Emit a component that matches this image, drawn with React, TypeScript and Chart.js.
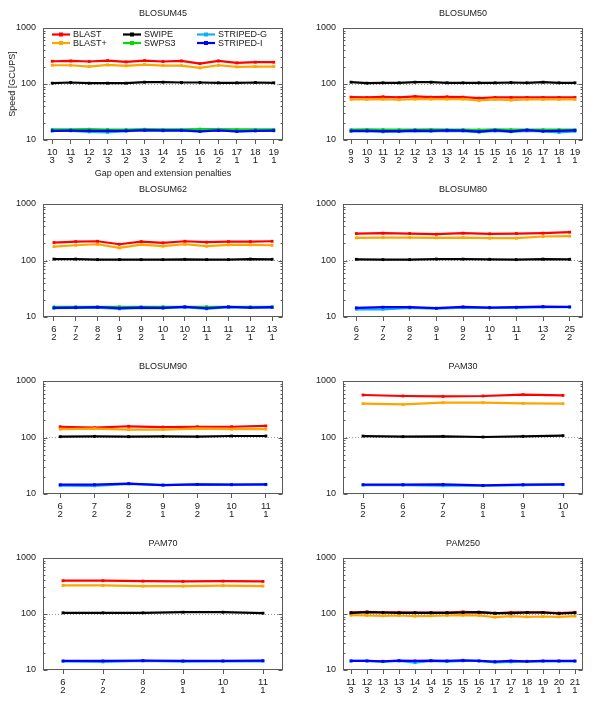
import { useEffect, useRef } from 'react';
import Chart from 'chart.js/auto';

// ---------------- data ----------------
const SERIES_NAMES = ['BLAST', 'BLAST+', 'SWIPE', 'SWPS3', 'STRIPED-G', 'STRIPED-I'];
const Y_TICKS = [10, 20, 30, 40, 50, 60, 70, 80, 90, 100, 200, 300, 400, 500, 600, 700, 800, 900, 1000];
const Y_MAJOR = [10, 100, 1000];

// BLOSUM45
const b45Open = [10, 11, 12, 12, 13, 13, 14, 15, 16, 16, 17, 18, 19];
const b45Ext = [3, 3, 2, 3, 2, 3, 2, 2, 1, 2, 1, 1, 1];
const b45Blast = [255, 258, 252, 262, 248, 262, 252, 258, 232, 258, 238, 245, 245];
const b45BlastPlus = [216, 216, 205, 219, 211, 222, 213, 213, 194, 216, 202, 205, 205];
const b45Swipe = [103.5, 106.3, 103.5, 103.5, 103.5, 107.8, 107.8, 106.3, 106.3, 104.9, 104.9, 106.3, 104.9];
const b45Swps3 = [15.5, 15.5, 15.6, 15.4, 15.4, 15.6, 15.5, 15.5, 15.7, 15.6, 15.5, 15.5, 15.5];
const b45StripedG = [14.5, 14.6, 13.9, 13.7, 14.4, 14.8, 14.6, 14.7, 14.2, 14.8, 14.2, 14.5, 14.6];
const b45StripedI = [14.6, 14.7, 14.6, 14.5, 14.6, 15.0, 14.8, 14.8, 14.3, 14.9, 14.3, 14.6, 14.7];

// BLOSUM50
const b50Open = [9, 10, 11, 12, 12, 13, 13, 14, 15, 15, 16, 16, 17, 18, 19];
const b50Ext = [3, 3, 3, 2, 3, 2, 3, 2, 1, 2, 1, 2, 1, 1, 1];
const b50Blast = [58.3, 57.5, 59.1, 57.5, 59.9, 58.3, 59.1, 58.3, 56.0, 57.5, 57.5, 57.5, 57.5, 57.5, 57.5];
const b50BlastPlus = [53.0, 53.0, 53.7, 52.3, 53.7, 53.7, 53.7, 53.7, 50.8, 53.0, 51.5, 53.0, 53.0, 53.0, 53.0];
const b50Swipe = [107.8, 103.5, 104.9, 104.9, 107.8, 107.8, 104.9, 104.9, 104.9, 104.9, 106.3, 104.9, 107.8, 104.9, 104.9];
const b50Swps3 = [15.3, 15.5, 15.4, 15.3, 15.4, 15.5, 15.4, 15.4, 15.2, 15.5, 15.3, 15.4, 15.3, 15.3, 15.3];
const b50StripedG = [14.3, 14.4, 13.9, 14.1, 14.4, 14.3, 14.6, 14.4, 13.8, 14.5, 14.0, 14.6, 14.2, 13.7, 14.3];
const b50StripedI = [14.5, 14.6, 14.4, 14.4, 14.7, 14.6, 14.8, 14.7, 14.1, 14.9, 14.3, 15.0, 14.4, 14.5, 14.8];

// BLOSUM62
const b62Open = [6, 7, 8, 9, 9, 10, 10, 11, 11, 12, 13];
const b62Ext = [2, 2, 2, 1, 2, 1, 2, 1, 2, 1, 1];
const b62Blast = [208, 216, 219, 194, 216, 205, 219, 211, 216, 216, 219];
const b62BlastPlus = [176, 186, 194, 167, 191, 179, 194, 179, 189, 189, 186];
const b62Swipe = [106, 106, 103.5, 103.5, 103.5, 103.5, 105, 103.5, 103.5, 106, 105];
const b62Swps3 = [15.1, 15.2, 15.1, 15.2, 15.1, 15.2, 15.1, 15.2, 15.1, 15.1, 15.2];
const b62StripedG = [14.3, 14.5, 14.7, 13.9, 14.5, 14.3, 14.9, 13.9, 14.9, 14.7, 14.7];
const b62StripedI = [14.5, 14.7, 14.9, 14.3, 14.7, 14.5, 15.1, 14.3, 15.1, 14.7, 14.9];

// BLOSUM80
const b80Open = [6, 7, 8, 9, 9, 10, 11, 13, 25];
const b80Ext = [2, 2, 2, 1, 2, 1, 1, 2, 2];
const b80Blast = [300, 305, 300, 292, 305, 296, 300, 305, 317];
const b80BlastPlus = [252, 255, 255, 252, 255, 248, 248, 266, 269];
const b80Swipe = [105, 103.5, 103.5, 106, 106, 105, 103.5, 106, 105];
const b80StripedG = [13.7, 13.7, 14.5, 14.1, 14.7, 14.5, 14.5, 14.9, 14.9];
const b80StripedI = [14.5, 14.9, 14.9, 14.3, 15.1, 14.7, 14.9, 15.3, 15.1];

// BLOSUM90
const b90Open = [6, 7, 8, 9, 9, 10, 11];
const b90Ext = [2, 2, 2, 1, 2, 1, 1];
const b90Blast = [155, 149, 158, 153, 155, 155, 160];
const b90BlastPlus = [141, 143, 138, 138, 143, 141, 141];
const b90Swipe = [103.4, 104.9, 103.4, 104.9, 103.4, 106.3, 106.3];
const b90StripedG = [14.0, 13.9, 15.1, 14.4, 14.8, 14.6, 14.6];
const b90StripedI = [14.6, 14.6, 15.3, 14.4, 14.8, 14.6, 14.8];

// PAM30
const p30Open = [5, 6, 7, 8, 9, 10];
const p30Ext = [2, 2, 2, 1, 1, 1];
const p30Blast = [565, 543, 535, 543, 573, 557];
const p30BlastPlus = [397, 386, 413, 413, 402, 397];
const p30Swipe = [106, 103.4, 105, 102, 105, 107.8];
const p30StripedG = [14.4, 14.4, 14.0, 14.0, 14.4, 14.6];
const p30StripedI = [14.6, 14.6, 14.8, 14.2, 14.6, 14.8];

// PAM70
const p70Open = [6, 7, 8, 9, 10, 11];
const p70Ext = [2, 2, 2, 1, 1, 1];
const p70Blast = [393, 393, 387, 382, 387, 382];
const p70BlastPlus = [324, 324, 315, 315, 320, 315];
const p70Swipe = [104.9, 104.9, 104.9, 107.8, 107.8, 103.5];
const p70StripedG = [14.3, 13.9, 14.5, 14.1, 14.3, 14.3];
const p70StripedI = [14.5, 14.5, 14.7, 14.5, 14.5, 14.7];

// PAM250
const p250Open = [11, 12, 13, 13, 14, 14, 15, 15, 16, 17, 17, 18, 19, 20, 21];
const p250Ext = [3, 3, 2, 3, 2, 3, 2, 3, 2, 1, 2, 1, 1, 1, 1];
const p250Blast = [106, 109, 107, 107, 106, 106, 106, 109, 107, 103, 107, 107, 107, 104, 107];
const p250BlastPlus = [95.3, 94.0, 92.7, 94.0, 91.4, 92.7, 94.0, 95.3, 94.0, 87.8, 91.4, 89.0, 90.2, 89.0, 91.4];
const p250Swipe = [104.9, 107.8, 106.3, 104.9, 104.9, 104.9, 104.9, 106.3, 107.8, 103.5, 103.5, 106.3, 106.3, 102.1, 104.9];
const p250StripedG = [14.5, 14.5, 14.1, 14.5, 13.5, 14.5, 14.1, 14.5, 14.5, 13.7, 13.9, 14.1, 14.3, 14.3, 14.3];
const p250StripedI = [14.5, 14.5, 14.3, 14.7, 14.5, 14.7, 14.5, 14.9, 14.5, 14.1, 14.5, 14.3, 14.5, 14.5, 14.5];

type PanelDef = {
  title: string;
  open: number[];
  ext: number[];
  series: (number[] | null)[];
};

const PANELS: PanelDef[] = [
  { title: 'BLOSUM45', open: b45Open, ext: b45Ext, series: [b45Blast, b45BlastPlus, b45Swipe, b45Swps3, b45StripedG, b45StripedI] },
  { title: 'BLOSUM50', open: b50Open, ext: b50Ext, series: [b50Blast, b50BlastPlus, b50Swipe, b50Swps3, b50StripedG, b50StripedI] },
  { title: 'BLOSUM62', open: b62Open, ext: b62Ext, series: [b62Blast, b62BlastPlus, b62Swipe, b62Swps3, b62StripedG, b62StripedI] },
  { title: 'BLOSUM80', open: b80Open, ext: b80Ext, series: [b80Blast, b80BlastPlus, b80Swipe, null, b80StripedG, b80StripedI] },
  { title: 'BLOSUM90', open: b90Open, ext: b90Ext, series: [b90Blast, b90BlastPlus, b90Swipe, null, b90StripedG, b90StripedI] },
  { title: 'PAM30', open: p30Open, ext: p30Ext, series: [p30Blast, p30BlastPlus, p30Swipe, null, p30StripedG, p30StripedI] },
  { title: 'PAM70', open: p70Open, ext: p70Ext, series: [p70Blast, p70BlastPlus, p70Swipe, null, p70StripedG, p70StripedI] },
  { title: 'PAM250', open: p250Open, ext: p250Ext, series: [p250Blast, p250BlastPlus, p250Swipe, null, p250StripedG, p250StripedI] },
];

// ---------------- styles / layout ----------------
const FONT = "'Liberation Sans', Arial, Helvetica, sans-serif";
const TEXT = '#1a1a1a';
const FRAME = '#5a5a5a';
const COLORS = ['#ff0000', '#ffa500', '#000000', '#00dd00', '#10b0f0', '#0000ff'];
const ROW_PLOT_TOP = [28, 204, 381, 558];
const ROW_PLOT_H = [112, 113, 113, 112];
const TOP_SPACE = 28;
const AXIS_Y_W = 43;
const RIGHT_PAD = 17;
const LINE_W = 2.2;
const POINT_R = 2;

const framePlugin = {
  id: 'frameTicks',
  afterDraw(chart: any) {
    const { ctx, chartArea: a, scales } = chart;
    const y = scales.y;
    ctx.save();
    ctx.strokeStyle = FRAME;
    ctx.lineWidth = 1;
    const l = Math.round(a.left) + 0.5;
    const r = Math.round(a.right) - 0.5;
    const t = Math.round(a.top) + 0.5;
    const b = Math.round(a.bottom) - 0.5;
    ctx.strokeRect(l, t, r - l, b - t);
    ctx.beginPath();
    for (const tk of y.ticks) {
      const py = Math.round(y.getPixelForValue(tk.value)) + 0.5;
      const len = Y_MAJOR.includes(tk.value) ? 4 : 2;
      ctx.moveTo(l, py);
      ctx.lineTo(l + len, py);
      ctx.moveTo(r, py);
      ctx.lineTo(r - len, py);
    }
    ctx.stroke();
    ctx.restore();
  },
};

const LEGEND_COL_X = [9, 80, 154];
const LEGEND_ROW_Y = [6.5, 15];
const legendPlugin = {
  id: 'insideLegend',
  afterDraw(chart: any) {
    const { ctx, chartArea: a } = chart;
    ctx.save();
    ctx.font = `9px ${FONT}`;
    ctx.textBaseline = 'middle';
    ctx.textAlign = 'left';
    chart.data.datasets.forEach((ds: any, i: number) => {
      const col = Math.floor(i / 2);
      const row = i % 2;
      const x0 = a.left + LEGEND_COL_X[col];
      const y0 = a.top + LEGEND_ROW_Y[row];
      ctx.strokeStyle = ds.borderColor;
      ctx.lineWidth = LINE_W;
      ctx.beginPath();
      ctx.moveTo(x0, y0);
      ctx.lineTo(x0 + 18, y0);
      ctx.stroke();
      ctx.fillStyle = ds.borderColor;
      ctx.fillRect(x0 + 9 - POINT_R, y0 - POINT_R, POINT_R * 2, POINT_R * 2);
      ctx.fillStyle = TEXT;
      ctx.fillText(ds.label, x0 + 21, y0 + 0.5);
    });
    ctx.restore();
  },
};

function Panel({ def, index }: { def: PanelDef; index: number }) {
  const ref = useRef<HTMLCanvasElement | null>(null);
  const row = Math.floor(index / 2);
  const col = index % 2;
  const first = index === 0;
  const axisH = first ? 40 : 36;
  const h = TOP_SPACE + ROW_PLOT_H[row] + axisH;
  const top = ROW_PLOT_TOP[row] - TOP_SPACE;
  const left = col * 300;

  useEffect(() => {
    const labels = def.open.map((o, i) => [String(o), String(def.ext[i])]);
    const datasets: any[] = [];
    def.series.forEach((s, i) => {
      if (!s) return;
      datasets.push({
        label: SERIES_NAMES[i],
        data: s,
        borderColor: COLORS[i],
        backgroundColor: COLORS[i],
        borderWidth: LINE_W,
        pointStyle: 'rect',
        pointRadius: POINT_R,
        pointBorderWidth: 0,
        pointBackgroundColor: COLORS[i],
        tension: 0,
        order: 10 - i,
      });
    });
    const chart = new Chart(ref.current as HTMLCanvasElement, {
      type: 'line',
      data: { labels, datasets },
      options: {
        animation: false,
        responsive: false,
        maintainAspectRatio: false,
        layout: { padding: { left: 0, right: RIGHT_PAD, top: 0, bottom: 0 } },
        plugins: {
          legend: { display: false },
          tooltip: { enabled: false },
          title: {
            display: true,
            text: def.title,
            fullSize: false,
            color: TEXT,
            font: { family: FONT, size: 9, weight: 'normal', lineHeight: 1.2 },
            padding: { top: 8.6, bottom: 8.6 },
          },
        },
        scales: {
          x: {
            type: 'category',
            offset: true,
            afterFit: (s: any) => {
              s.height = axisH;
            },
            grid: {
              drawOnChartArea: false,
              drawTicks: true,
              tickLength: 4,
              tickColor: FRAME,
              color: FRAME,
              offset: false,
            },
            border: { display: false },
            ticks: {
              autoSkip: false,
              maxRotation: 0,
              padding: 4,
              color: TEXT,
              font: { family: FONT, size: 9.5, lineHeight: 0.85 },
            },
            title: {
              display: first,
              text: 'Gap open and extension penalties',
              color: TEXT,
              font: { family: FONT, size: 9 },
              padding: { top: 0, bottom: 1 },
            },
          },
          y: {
            type: 'logarithmic',
            min: 10,
            max: 1000,
            afterFit: (s: any) => {
              s.width = AXIS_Y_W;
            },
            afterBuildTicks: (s: any) => {
              s.ticks = Y_TICKS.map((v) => ({ value: v, major: Y_MAJOR.includes(v) }));
            },
            grid: {
              drawTicks: false,
              color: (c: any) => (c.tick && c.tick.value === 100 ? '#9a9a9a' : 'rgba(0,0,0,0)'),
              lineWidth: 1,
            },
            border: { display: false, dash: [1, 2] },
            ticks: {
              autoSkip: false,
              padding: 7,
              color: TEXT,
              font: { family: FONT, size: 9 },
              callback: (v: any) => (Y_MAJOR.includes(Number(v)) ? String(v) : ''),
            },
            title: {
              display: first,
              text: 'Speed [GCUPS]',
              color: TEXT,
              font: { family: FONT, size: 9 },
              padding: { top: 7, bottom: 0 },
            },
          },
        },
      },
      plugins: first ? [framePlugin, legendPlugin] : [framePlugin],
    } as any);
    return () => chart.destroy();
  }, []);

  return (
    <canvas
      ref={ref}
      width={300}
      height={h}
      style={{ position: 'absolute', left, top, width: 300, height: h }}
    />
  );
}

export default function App() {
  return (
    <div style={{ position: 'absolute', left: 0, top: 0, width: 600, height: 706, background: '#fff' }}>
      {PANELS.map((p, i) => (
        <Panel key={p.title} def={p} index={i} />
      ))}
    </div>
  );
}
